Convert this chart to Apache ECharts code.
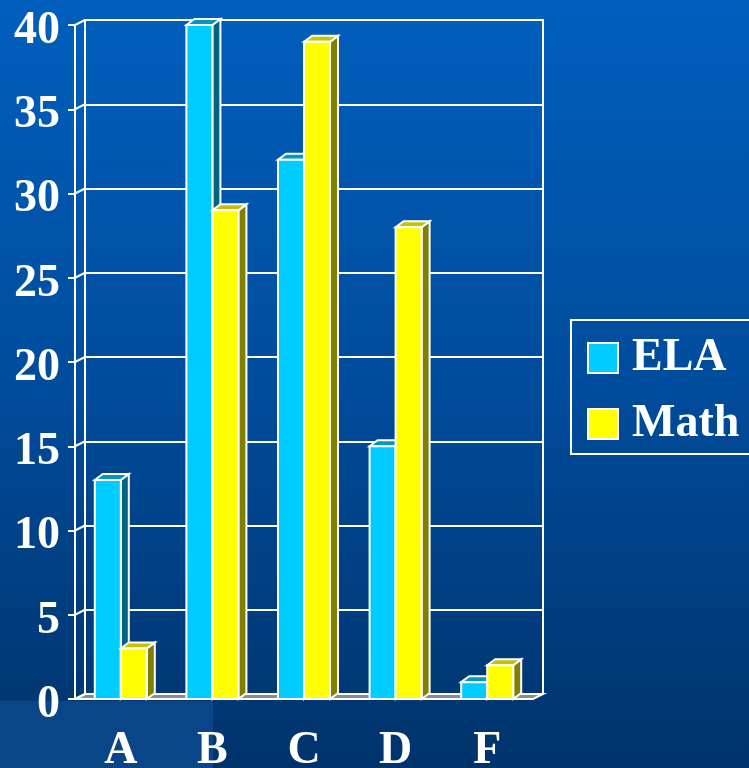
<!DOCTYPE html>
<html>
<head>
<meta charset="utf-8">
<script src="https://cdn.jsdelivr.net/npm/echarts@6/dist/echarts.min.js"></script>
<style>
  html, body { margin: 0; padding: 0; }
  #chart { width: 749px; height: 768px; }
</style>
</head>
<body>
<div id="chart"></div>
<script>
// Grade distribution, ELA vs Math
const categories = ['A', 'B', 'C', 'D', 'F'];
const elaValues = [13, 40, 32, 15, 1];
const mathValues = [3, 29, 39, 28, 2];
const yTicks = [0, 5, 10, 15, 20, 25, 30, 35, 40];

const serif = "'Liberation Serif', 'Times New Roman', serif";
const WALL_DX = 10, WALL_DY = -5;   // depth of the back wall
const BAR_DX = 8, BAR_DY = -6;      // depth of each bar

const chart = echarts.init(document.getElementById('chart'));

// Draws a box-shaped bar: front face, top face and right side face
function boxBar(side, front, topC, sideC) {
  return function (params, api) {
    const idx = api.value(0);
    const v = api.value(1);
    const top = api.coord([idx, v]);
    const base = api.coord([idx, 0]);
    const band = api.size([1, 0])[0];
    const w = band * 0.284;
    const x0 = side < 0 ? top[0] - w : top[0];
    const x1 = x0 + w;
    const ty = top[1], by = base[1];
    const stroke = { stroke: '#ffffff', lineWidth: 2, lineJoin: 'miter' };
    return {
      type: 'group',
      children: [
        { type: 'polygon',
          shape: { points: [[x1, ty], [x1 + BAR_DX, ty + BAR_DY], [x1 + BAR_DX, by + BAR_DY], [x1, by]] },
          style: Object.assign({ fill: sideC }, stroke) },
        { type: 'polygon',
          shape: { points: [[x0, ty], [x0 + BAR_DX, ty + BAR_DY], [x1 + BAR_DX, ty + BAR_DY], [x1, ty]] },
          style: Object.assign({ fill: topC }, stroke) },
        { type: 'rect',
          shape: { x: x0, y: ty, width: w, height: by - ty },
          style: Object.assign({ fill: front }, stroke) }
      ]
    };
  };
}

// Floor and the short links from the front axis ticks to the back wall
function frameRenderer(params, api) {
  const v = api.value(1);
  const p = api.coord([0, v]);
  const cs = params.coordSys;
  const children = [];
  if (v === 0) {
    const y0 = p[1], xl = cs.x, xr = cs.x + cs.width;
    children.push({
      type: 'polygon',
      shape: { points: [[xl, y0], [xr, y0], [xr + WALL_DX, y0 + WALL_DY], [xl + WALL_DX, y0 + WALL_DY]] },
      style: { fill: '#8c8c8c', stroke: '#ffffff', lineWidth: 2 }
    });
  }
  children.push({
    type: 'line',
    shape: { x1: cs.x, y1: p[1], x2: cs.x + WALL_DX, y2: p[1] + WALL_DY },
    style: { stroke: '#ffffff', lineWidth: 2 }
  });
  return { type: 'group', children: children };
}

const option = {
  animation: false,
  backgroundColor: new echarts.graphic.LinearGradient(0, 0, 0, 1, [
    { offset: 0, color: '#005fbd' },
    { offset: 0.5, color: '#004c9c' },
    { offset: 1, color: '#00336b' }
  ]),
  graphic: [
    { type: 'rect', z: -10, silent: true,
      shape: { x: 0, y: 701, width: 213, height: 67 },
      style: { fill: '#0a4587' } }
  ],
  legend: {
    orient: 'vertical',
    left: 571,
    top: 320,
    padding: [15, 40, 7, 16],
    itemWidth: 30,
    itemHeight: 30,
    itemGap: 20,
    borderColor: '#ffffff',
    borderWidth: 2,
    icon: 'rect',
    itemStyle: { borderColor: '#ffffff', borderWidth: 2 },
    textStyle: { color: '#ffffff', fontFamily: serif, fontWeight: 'bold', fontSize: 46, padding: [0, 0, 0, 9] },
    data: ['ELA', 'Math']
  },
  grid: [
    { left: 75, top: 25, width: 458, height: 674, outerBoundsMode: 'none', containLabel: false },
    { left: 85, top: 20, width: 458, height: 674, outerBoundsMode: 'none', containLabel: false,
      show: true, borderColor: '#ffffff', borderWidth: 2 }
  ],
  xAxis: [
    { type: 'category', gridIndex: 0, data: categories,
      axisLine: { lineStyle: { color: '#ffffff', width: 2 } },
      axisTick: { length: 7, lineStyle: { color: '#ffffff', width: 2 } },
      axisLabel: { color: '#ffffff', fontFamily: serif, fontWeight: 'bold', fontSize: 46, margin: 29 } },
    { type: 'category', gridIndex: 1, data: categories, show: false }
  ],
  yAxis: [
    { type: 'value', gridIndex: 0, min: 0, max: 40, interval: 5,
      axisLine: { show: true, lineStyle: { color: '#ffffff', width: 2 } },
      axisTick: { show: true, length: 7, lineStyle: { color: '#ffffff', width: 2 } },
      splitLine: { show: false },
      axisLabel: { margin: 15, formatter: '{v|{value}}',
                   rich: { v: { color: '#ffffff', fontFamily: serif, fontWeight: 'bold', fontSize: 46,
                                padding: [12, 0, 0, 0] } } } },
    { type: 'value', gridIndex: 1, min: 0, max: 40, interval: 5,
      axisLine: { show: false }, axisTick: { show: false }, axisLabel: { show: false },
      splitLine: { lineStyle: { color: '#ffffff', width: 2 } } }
  ],
  series: [
    { type: 'custom', name: 'frame', xAxisIndex: 0, yAxisIndex: 0, silent: true,
      renderItem: frameRenderer,
      data: yTicks.map(v => [0, v]), encode: { x: 0, y: 1 } },
    { type: 'custom', name: 'ELA', xAxisIndex: 0, yAxisIndex: 0,
      itemStyle: { color: '#00ccff', borderColor: '#ffffff', borderWidth: 2 },
      renderItem: boxBar(-1, '#00ccff', '#0099bb', '#006680'),
      data: elaValues.map((v, i) => [i, v]), encode: { x: 0, y: 1 } },
    { type: 'custom', name: 'Math', xAxisIndex: 0, yAxisIndex: 0,
      itemStyle: { color: '#ffff00', borderColor: '#ffffff', borderWidth: 2 },
      renderItem: boxBar(1, '#ffff00', '#c8c000', '#808000'),
      data: mathValues.map((v, i) => [i, v]), encode: { x: 0, y: 1 } }
  ]
};

chart.setOption(option);
</script>
</body>
</html>
